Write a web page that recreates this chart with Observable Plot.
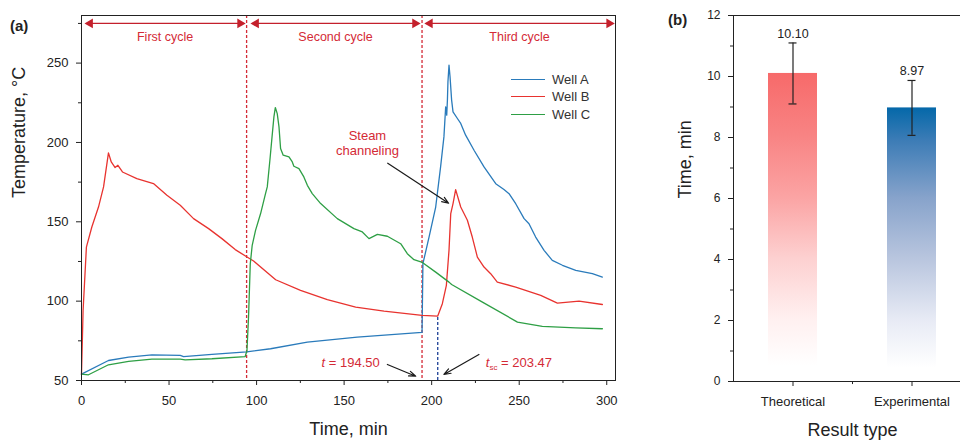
<!DOCTYPE html>
<html><head><meta charset="utf-8">
<script src="https://cdn.jsdelivr.net/npm/d3@7"></script>
<script src="https://cdn.jsdelivr.net/npm/@observablehq/plot@0.6"></script>
<style>
html,body{margin:0;padding:0;background:#fff;overflow:hidden}
#wrap{position:relative;width:960px;height:444px;overflow:hidden;font-family:"Liberation Sans",Arial,sans-serif;background:#fff}
#a,#b{position:absolute;top:0}
#a{left:0;width:630px}
#b{left:630px;width:345px}
#wrap svg{max-width:none !important;display:block}
.panel{position:absolute;font-weight:bold;font-size:15px;color:#222}
#legend{position:absolute;left:511px;top:70.25px;font-size:13px;color:#333}
.li{display:flex;align-items:center;height:17.5px;white-space:nowrap}
.sw{display:inline-block;width:34px;height:0;border-top:1.5px solid;margin-right:7px}
#err{position:absolute;left:0;top:0;color:red;font-size:12px}
</style></head><body>
<div id="wrap">
<div id="a"></div><div id="b"></div>
<div class="panel" style="left:10px;top:17px">(a)</div>
<div class="panel" style="left:668px;top:11px">(b)</div>
<div id="legend"></div>
<pre id="err"></pre>
</div>
<script>
// ---------- Panel (a) data ----------
const wells = ["Well A", "Well B", "Well C"];
const wellColors = ["#2a7bbb", "#e8332f", "#2e9f45"];

const timeA = [0, 15.4, 26.9, 40.2, 56.4, 58.3, 74.5, 94.3, 108, 129, 157.5, 194.5, 195, 198.5, 202.3, 205.1, 207, 208, 208.6, 209, 209.3, 209.9, 210.5, 211.4, 212.2, 214.7, 216.6, 219.4, 224.2, 229.9, 236.6, 241.3, 244.2, 248, 252.8, 255.6, 259.4, 264.2, 268.9, 274.7, 282.3, 291.8, 297.5];
const tempA = [54, 62.6, 64.7, 66.2, 65.8, 65.1, 66.4, 68, 70, 74.2, 77.3, 80.3, 123.6, 140.4, 159.3, 184.6, 203.5, 222.4, 217.2, 226.7, 238.2, 248.7, 241.4, 226.7, 219.3, 215.1, 212, 204.6, 195.1, 184.6, 174, 170.3, 167.7, 161.4, 152, 148.8, 140.4, 132, 125.7, 122.6, 119.4, 117.3, 115.2];

const timeB = [0, 0.9, 2.8, 5.9, 9.7, 12.6, 15.4, 17, 19.2, 20.8, 23.4, 31.6, 41.1, 48.8, 56.4, 64, 72.6, 80.2, 87.8, 94.3, 98.3, 110.9, 125.1, 140.4, 156.6, 172.8, 194.5, 203.47, 206.1, 208.4, 209.9, 210.9, 212.2, 213.7, 216.6, 220.4, 223.2, 226.1, 229.9, 233.7, 237.5, 248, 262.3, 271.8, 284.2, 297.5];
const tempB = [54, 94, 134, 146.7, 159.3, 172, 193.4, 187.7, 184.2, 185.6, 181.4, 177.2, 174.1, 166.7, 160.4, 152, 145.7, 139.4, 132.5, 128, 125.3, 113.5, 106.8, 100.9, 96.3, 93.7, 91, 90.6, 98.4, 110, 132, 155.2, 161.5, 170.3, 159.3, 151, 140.4, 127.8, 121.5, 117.3, 112, 108.9, 103.6, 98.8, 100, 97.9];

const timeC = [0, 4, 15.4, 26.9, 40.2, 56.4, 59.2, 74.5, 93.5, 94.5, 95.4, 96.4, 97.5, 99.4, 102.3, 105.1, 106.1, 107.6, 109, 109.9, 110.7, 111.8, 112.8, 113.7, 115.2, 118.5, 120.4, 121.3, 124.2, 127, 129, 131.8, 136.6, 146.1, 155.6, 160.4, 164.2, 169, 174.7, 182.3, 186.1, 189.9, 194.7, 202.3, 209.9, 211.4, 229, 249, 263.2, 282.3, 297.5];
const tempC = [54, 53.6, 59.9, 62, 63.5, 63.5, 63, 63.7, 65.1, 68.9, 89.9, 123.6, 135.2, 144.6, 155.2, 167.7, 172, 188.8, 205.6, 216.1, 222, 218.2, 209.8, 196.2, 192, 190.9, 187.7, 185, 183.5, 178.3, 173, 167.8, 161.5, 152, 145.7, 143.6, 139.4, 142.1, 140.9, 136.2, 129.9, 126.1, 124.4, 118.3, 112, 110.5, 99.4, 86.8, 84.1, 83.2, 82.6];

const xMajor = [0, 50, 100, 150, 200, 250, 300];
const xMinor = [25, 75, 125, 175, 225, 275];
const yMajor = [50, 100, 150, 200, 250];
const yMinor = [75, 125, 175, 225, 275];

const cycleLabels = ["First cycle", "Second cycle", "Third cycle"];
const cycleStart = [2.9, 97.7, 197];
const cycleEnd = [92.6, 192.5, 303.4];
const cycleArrowTemp = 275;
const cycleLabelTemp = 266.5;
const cycleBounds = [94.3, 194.5];
const tSc = 203.47;
const tScTemp = 90.6;

const noteSteam = {text: "Steam\nchanneling", t: 163.3, T: 199.8};
const noteT = {text: "t = 194.50", t: 153.7, T: 61};
const noteTsc = {text: "tsc = 203.47", t: 230.9, T: 61.2};
const arrows = [
  {x1: 174.9, y1: 186.9, x2: 209.7, y2: 161.7},
  {x1: 174.7, y1: 60.1, x2: 190.9, y2: 52.7},
  {x1: 227, y1: 66.4, x2: 207, y2: 53.8}
];

// ---------- Panel (b) data ----------
const resultTypes = ["Theoretical", "Experimental"];
const resultValues = [10.10, 8.97];
const resultErrors = [1.0, 0.9];
const bYMajor = [0, 2, 4, 6, 8, 10, 12];
const bYMinor = [1, 3, 5, 7, 9, 11];

// ---------- build ----------
const FONT = "Liberation Sans, Arial, sans-serif";
const RED = "#d42a36";
try {
const series = [[timeA, tempA], [timeB, tempB], [timeC, tempC]];
const lineData = series.flatMap(([ts, vs], k) => ts.map((t, i) => ({well: wells[k], t, T: vs[i]})));
const cycles = cycleLabels.map((label, i) => ({label, s: cycleStart[i], e: cycleEnd[i], m: (cycleStart[i] + cycleEnd[i]) / 2, y: cycleArrowTemp, ly: cycleLabelTemp}));

const left = Plot.plot({
  width: 630, height: 444,
  marginLeft: 81, marginRight: 15, marginTop: 15, marginBottom: 64,
  style: {fontFamily: FONT, fontSize: "13px", color: "#222", background: "white"},
  x: {domain: [0, 305]},
  y: {domain: [50, 280]},
  color: {domain: wells, range: wellColors},
  marks: [
    Plot.ruleX(cycleBounds, {stroke: RED, strokeDasharray: "3,2", strokeWidth: 1.3}),
    Plot.ruleX([tSc], {x: d => d, y1: 50, y2: tScTemp, stroke: "#1c3f96", strokeDasharray: "3,2", strokeWidth: 1.3}),
    Plot.line(lineData, {x: "t", y: "T", z: "well", stroke: "well", strokeWidth: 1.3}),
    Plot.frame({stroke: "#222", strokeWidth: 1}),
    Plot.axisX(xMajor, {tickSize: 5, tickPadding: 10, label: null, fontSize: 13}),
    Plot.axisX(xMinor, {tickSize: 3, tickFormat: () => "", label: null}),
    Plot.axisY(yMajor, {tickSize: 5, tickPadding: 8, label: null, fontSize: 13}),
    Plot.axisY(yMinor, {tickSize: 3, tickFormat: () => "", label: null}),
    Plot.link(cycles, {x1: "s", x2: "e", y1: "y", y2: "y", stroke: "#c4202c", strokeWidth: 1.3}),
    Plot.dot(cycles, {x: "s", y: "y", symbol: "triangle", rotate: -90, r: 3.6, dx: 3.5, fill: "#c4202c", stroke: "none"}),
    Plot.dot(cycles, {x: "e", y: "y", symbol: "triangle", rotate: 90, r: 3.6, dx: -3.5, fill: "#c4202c", stroke: "none"}),
    Plot.text(cycles, {x: "m", y: "ly", text: "label", fill: RED, fontSize: 12.5}),
    Plot.text([noteSteam], {x: "t", y: "T", text: "text", fill: RED, fontSize: 13, lineHeight: 1.15}),
    Plot.text([noteT], {x: "t", y: "T", text: "text", fill: RED, fontSize: 13}),
    Plot.text([noteTsc], {x: "t", y: "T", text: "text", fill: RED, fontSize: 13, textAnchor: "start"}),
    Plot.arrow(arrows, {x1: "x1", y1: "y1", x2: "x2", y2: "y2", stroke: "#1a1a1a", strokeWidth: 1.2, headLength: 9, headAngle: 40}),
    Plot.text(["Time, min"], {frameAnchor: "bottom", dy: 54, fontSize: 18, fill: "#222"}),
    Plot.text(["Temperature, °C"], {frameAnchor: "left", dx: -62, rotate: -90, fontSize: 18, fill: "#222"})
  ]
});
document.getElementById("a").append(left);

left.querySelectorAll("text").forEach(el => {
  if (el.textContent === noteT.text) {
    el.innerHTML = '<tspan font-style="italic">t</tspan> = 194.50';
  } else if (el.textContent === noteTsc.text) {
    el.innerHTML = '<tspan font-style="italic">t</tspan><tspan font-size="8" dy="3">sc</tspan><tspan dy="-3"> = 203.47</tspan>';
  }
});

const leg = document.getElementById("legend");
wells.forEach((w, i) => {
  const row = document.createElement("div");
  row.className = "li";
  row.innerHTML = `<span class="sw" style="border-color:${wellColors[i]}"></span>${w}`;
  leg.append(row);
});

const barData = resultTypes.map((type, i) => ({type, v: resultValues[i], e: resultErrors[i], lo: resultValues[i] - resultErrors[i], hi: resultValues[i] + resultErrors[i], label: d3.format(".2f")(resultValues[i])}));
const defs = () => {
  const d = d3.create("svg:defs");
  const mk = (id, stops) => {
    const g = d.append("linearGradient").attr("id", id).attr("x1", 0).attr("y1", 0).attr("x2", 0).attr("y2", 1);
    stops.forEach(([o, c]) => g.append("stop").attr("offset", o).attr("stop-color", c));
  };
  mk("gRed", [[0, "#f76a6a"], [0.2, "#f88383"], [0.4, "#fba3a3"], [0.6, "#fdd0d0"], [0.8, "#fff0f0"], [0.95, "#ffffff"]]);
  mk("gBlue", [[0, "#0468a9"], [0.12, "#3c7cb6"], [0.33, "#87a3cb"], [0.55, "#b8c5de"], [0.78, "#e8ebf5"], [0.95, "#ffffff"]]);
  return d.node();
};
const right = Plot.plot({
  width: 345, height: 444,
  marginLeft: 103, marginRight: 4, marginTop: 15, marginBottom: 63,
  style: {fontFamily: FONT, fontSize: "12px", color: "#222", background: "white"},
  x: {type: "band", domain: resultTypes, paddingInner: 0.59, paddingOuter: 0.295},
  y: {domain: [0, 12]},
  marks: [
    defs,
    Plot.barY(barData.filter(d => d.type === "Theoretical"), {x: "type", y: "v", fill: "url(#gRed)"}),
    Plot.barY(barData.filter(d => d.type === "Experimental"), {x: "type", y: "v", fill: "url(#gBlue)"}),
    Plot.ruleX(barData, {x: "type", y1: "lo", y2: "hi", stroke: "#222", strokeWidth: 1.2}),
    Plot.tickY(barData, {x: "type", y: "hi", insetLeft: 20.5, insetRight: 20.5, stroke: "#222", strokeWidth: 1.2}),
    Plot.tickY(barData, {x: "type", y: "lo", insetLeft: 20.5, insetRight: 20.5, stroke: "#222", strokeWidth: 1.2}),
    Plot.text(barData, {x: "type", y: "hi", text: "label", lineAnchor: "bottom", dy: -5, fontSize: 12.5, fill: "#222"}),
    Plot.frame({stroke: "#222", strokeWidth: 1}),
    Plot.axisX({tickSize: 5, tickPadding: 10, label: null, fontSize: 13}),
    Plot.ruleX(["Theoretical"], {x: d => d, y1: 0, y2: -0.1, dx: 59.5, stroke: "#222"}),
    Plot.axisY(bYMajor, {tickSize: 5, tickPadding: 8, label: null, fontSize: 12}),
    Plot.axisY(bYMinor, {tickSize: 3, tickFormat: () => "", label: null}),
    Plot.text(["Result type"], {frameAnchor: "bottom", dy: 54, fontSize: 18, fill: "#222"}),
    Plot.text(["Time, min"], {frameAnchor: "left", dx: -48, rotate: -90, fontSize: 18, fill: "#222"})
  ]
});
document.getElementById("b").append(right);
} catch (e) {
  document.getElementById("err").textContent = String(e && e.stack || e);
}
</script>
</body></html>
